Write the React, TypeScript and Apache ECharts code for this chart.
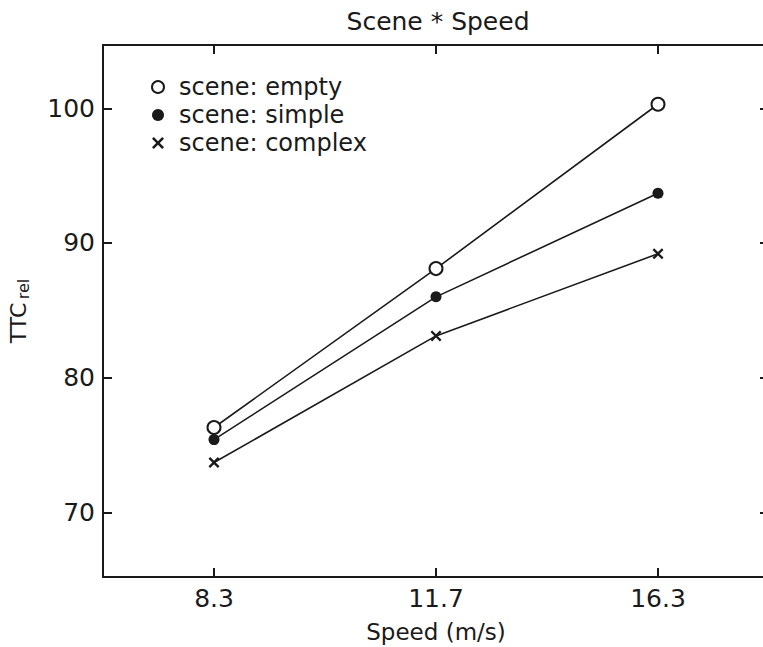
import React, { useEffect, useRef } from "react";
import * as echarts from "echarts";

const speeds = ["8.3", "11.7", "16.3"];
const emptyScene = [76.3, 88.1, 100.3];
const simpleScene = [75.4, 86.0, 93.7];
const complexScene = [73.7, 83.1, 89.2];
const yTicks = [70, 80, 90, 100];
const seriesNames = ["scene: empty", "scene: simple", "scene: complex"];
const titleText = "Scene * Speed";

const FONT = "DejaVu Sans";
const INK = "#1a1a1a";
const CROSS =
  "path://M1.5,0 L5,3.5 L8.5,0 L10,1.5 L6.5,5 L10,8.5 L8.5,10 L5,6.5 L1.5,10 L0,8.5 L3.5,5 L0,1.5 Z";

export default function App() {
  const ref = useRef<HTMLDivElement>(null);
  useEffect(() => {
    if (!ref.current) return;
    const chart = echarts.init(ref.current, undefined, {
      renderer: "svg",
      width: 763,
      height: 647,
    });
    const lineStyle = { color: INK, width: 1.6 };
    const tick = {
      show: true,
      inside: true,
      length: 9,
      lineStyle: { color: INK, width: 2 },
    };
    chart.setOption({
      animation: false,
      backgroundColor: "#fff",
      graphic: [
        {
          type: "text",
          x: 438,
          y: 21,
          style: {
            text: titleText,
            font: `25px "${FONT}"`,
            fill: INK,
            textAlign: "center",
            textVerticalAlign: "middle",
          },
        },
      ],
      legend: {
        orient: "vertical",
        left: 146,
        top: 70,
        itemWidth: 12,
        itemHeight: 12,
        itemGap: 4,
        textStyle: {
          fontFamily: FONT,
          fontSize: 24,
          color: INK,
          padding: [0, 0, 0, 10],
        },
        data: [
          {
            name: seriesNames[0],
            icon: "circle",
            itemStyle: { color: "#fff", borderColor: INK, borderWidth: 2 },
          },
          { name: seriesNames[1], icon: "circle", itemStyle: { color: INK } },
          { name: seriesNames[2], icon: CROSS, itemStyle: { color: INK } },
        ],
      },
      grid: {
        left: 103,
        top: 45,
        right: -6,
        bottom: 70,
        outerBoundsMode: "none",
        containLabel: false,
      },
      xAxis: [
        {
          type: "category",
          data: speeds,
          name: "Speed (m/s)",
          nameLocation: "middle",
          nameGap: 43,
          nameTextStyle: {
            fontFamily: FONT,
            fontSize: 23,
            color: INK,
            lineHeight: 24,
          },
          axisLine: { lineStyle: { color: INK, width: 2 } },
          axisTick: { ...tick, alignWithLabel: true },
          axisLabel: { fontFamily: FONT, fontSize: 25, color: INK, margin: 9 },
          splitLine: { show: false },
        },
        {
          type: "category",
          data: speeds,
          position: "top",
          axisLine: { lineStyle: { color: INK, width: 2 } },
          axisTick: { ...tick, alignWithLabel: true },
          axisLabel: { show: false },
          splitLine: { show: false },
        },
      ],
      yAxis: [
        {
          type: "value",
          min: 65.2,
          max: 104.7,
          name: "{a|TTC} {b|rel}",
          nameLocation: "middle",
          nameRotate: 90,
          nameGap: 72,
          nameTextStyle: {
            color: INK,
            rich: {
              a: { fontFamily: FONT, fontSize: 22, color: INK, lineHeight: 26 },
              b: {
                fontFamily: FONT,
                fontSize: 16,
                color: INK,
                lineHeight: 26,
                verticalAlign: "bottom",
              },
            },
          },
          axisLine: { show: true, lineStyle: { color: INK, width: 2 } },
          axisTick: { ...tick, customValues: yTicks },
          axisLabel: {
            fontFamily: FONT,
            fontSize: 25,
            color: INK,
            margin: 8,
            customValues: yTicks,
          },
          splitLine: { show: false },
        },
        {
          type: "value",
          min: 65.2,
          max: 104.7,
          position: "right",
          axisLine: { show: false },
          axisTick: { ...tick, customValues: yTicks },
          axisLabel: { show: false },
          splitLine: { show: false },
        },
      ],
      series: [
        {
          name: seriesNames[0],
          type: "line",
          data: emptyScene,
          symbol: "emptyCircle",
          symbolSize: 13,
          itemStyle: { color: INK, borderWidth: 2 },
          lineStyle,
        },
        {
          name: seriesNames[1],
          type: "line",
          data: simpleScene,
          symbol: "circle",
          symbolSize: 11,
          itemStyle: { color: INK },
          lineStyle,
        },
        {
          name: seriesNames[2],
          type: "line",
          data: complexScene,
          symbol: CROSS,
          symbolSize: 11,
          itemStyle: { color: INK },
          lineStyle,
        },
      ],
    });
    return () => chart.dispose();
  }, []);
  return (
    <div
      ref={ref}
      style={{
        position: "fixed",
        left: 0,
        top: 0,
        width: 763,
        height: 647,
        overflow: "hidden",
      }}
    />
  );
}
